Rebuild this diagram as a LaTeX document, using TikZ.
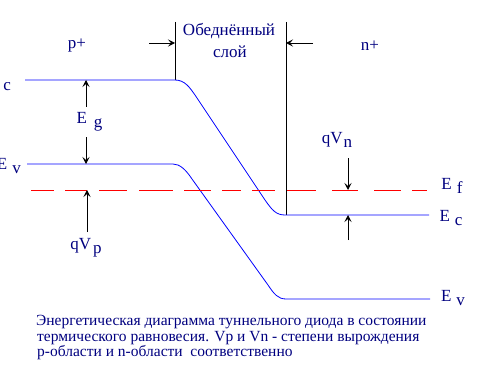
\documentclass[tikz,border=0pt]{standalone}
\usepackage{fontspec}
\setmainfont{Liberation Serif}
\newfontfamily\lserif{Liberation Serif}
\usetikzlibrary{arrows.meta}
\definecolor{navy}{RGB}{0,0,128}
\definecolor{bandblue}{RGB}{0,0,255}
\definecolor{efred}{RGB}{255,0,0}
\newcommand\Lsub[3][5pt]{#2\hspace{#1}\raisebox{-4pt}{#3}}
\begin{document}
\begin{tikzpicture}[x=1pt,y=-1pt,
  lbl/.style={inner sep=0pt,text=navy,font=\lserif\fontsize{17}{17}\selectfont},
  captxt/.style={inner sep=0pt,anchor=base west,text=navy,font=\lserif\fontsize{15.5}{15.5}\selectfont},
  band/.style={draw=bandblue,line width=0.8pt},
  ef/.style={draw=efred,line width=0.9pt},
  wall/.style={draw=black,line width=0.9pt},
  arr/.style={draw=black,line width=0.8pt,-{Stealth[length=7pt,width=7pt,inset=3pt]}}]
\clip (0,0) rectangle (477,369);
\fill[white] (0,0) rectangle (477,369);
% walls of depletion layer
\coordinate (w1t) at (175,22); \coordinate (w1b) at (175,80);
\coordinate (w2t) at (286,22); \coordinate (w2b) at (286,215);
\draw[wall] (w1t) -- (w1b);
\draw[wall] (w2t) -- (w2b);
% bands
\draw[band] (25,80) -- (175,80) .. controls (185,80) and (190,88) .. (195,95)
  -- (265,200) .. controls (272,210) and (276,215) .. (285,215) -- (429,215);
\draw[band] (27,164) -- (173,164) .. controls (180,164) and (186,170) .. (192,179)
  -- (268,285) .. controls (274,294) and (278,299) .. (286,299) -- (430,299);
% Fermi level
\foreach \a/\b in {31/54,65/87,99/127,139/173,184/211,222/241,252/275,287/316,332/358,374/401,412/427}
  \draw[ef] (\a,190) -- (\b,190);
% arrow coordinates
\coordinate (la) at (149,43); \coordinate (lb) at (175,43);
\coordinate (ra) at (313,43); \coordinate (rb) at (286,43);
\coordinate (eg1) at (86,107); \coordinate (eg2) at (86,80);
\coordinate (eg3) at (86,137); \coordinate (eg4) at (86,164);
\coordinate (vp1) at (87,232); \coordinate (vp2) at (87,190);
\coordinate (vn1) at (348,158); \coordinate (vn2) at (348,190);
\coordinate (vn3) at (348,240); \coordinate (vn4) at (348,215);
\draw[arr] (la) -- (lb);
\draw[arr] (ra) -- (rb);
\draw[arr] (eg1) -- (eg2);
\draw[arr] (eg3) -- (eg4);
\draw[arr] (vp1) -- (vp2);
\draw[arr] (vn1) -- (vn2);
\draw[arr] (vn3) -- (vn4);
% labels
\node[lbl] (pp) at (77,46) {p+};
\node[lbl] (np) at (370,46) {n+};
\node[lbl] (ob1) at (229,31) {Обеднённый};
\node[lbl] (ob2) at (230,52) {слой};
\node[lbl] (eg) at (89.5,122) {\Lsub[7pt]{E}{g}};
\node[lbl] (qvp) at (86,248) {\Lsub[2pt]{qV}{p}};
\node[lbl] (qvn) at (337,140) {\Lsub[1pt]{qV}{n}};
\node[lbl] (efl) at (452,186) {\Lsub{E}{f}};
\node[lbl] (ecr) at (451,218) {\Lsub{E}{c}};
\node[lbl] (evr) at (453,298) {\Lsub{E}{v}};
\node[lbl,anchor=east] (ecl) at (11,83) {\Lsub{E}{c}};
\node[lbl,anchor=east] (evl) at (21,166) {\Lsub{E}{v}};
% caption
\node[captxt] (c1) at (36,325) {Энергетическая диаграмма туннельного диода в состоянии};
\node[captxt] (c2) at (37,341) {термического равновесия. Vp и Vn - степени вырождения};
\node[captxt] (c3) at (37,356) {p-области и n-области \ соответственно};
\end{tikzpicture}
\end{document}
